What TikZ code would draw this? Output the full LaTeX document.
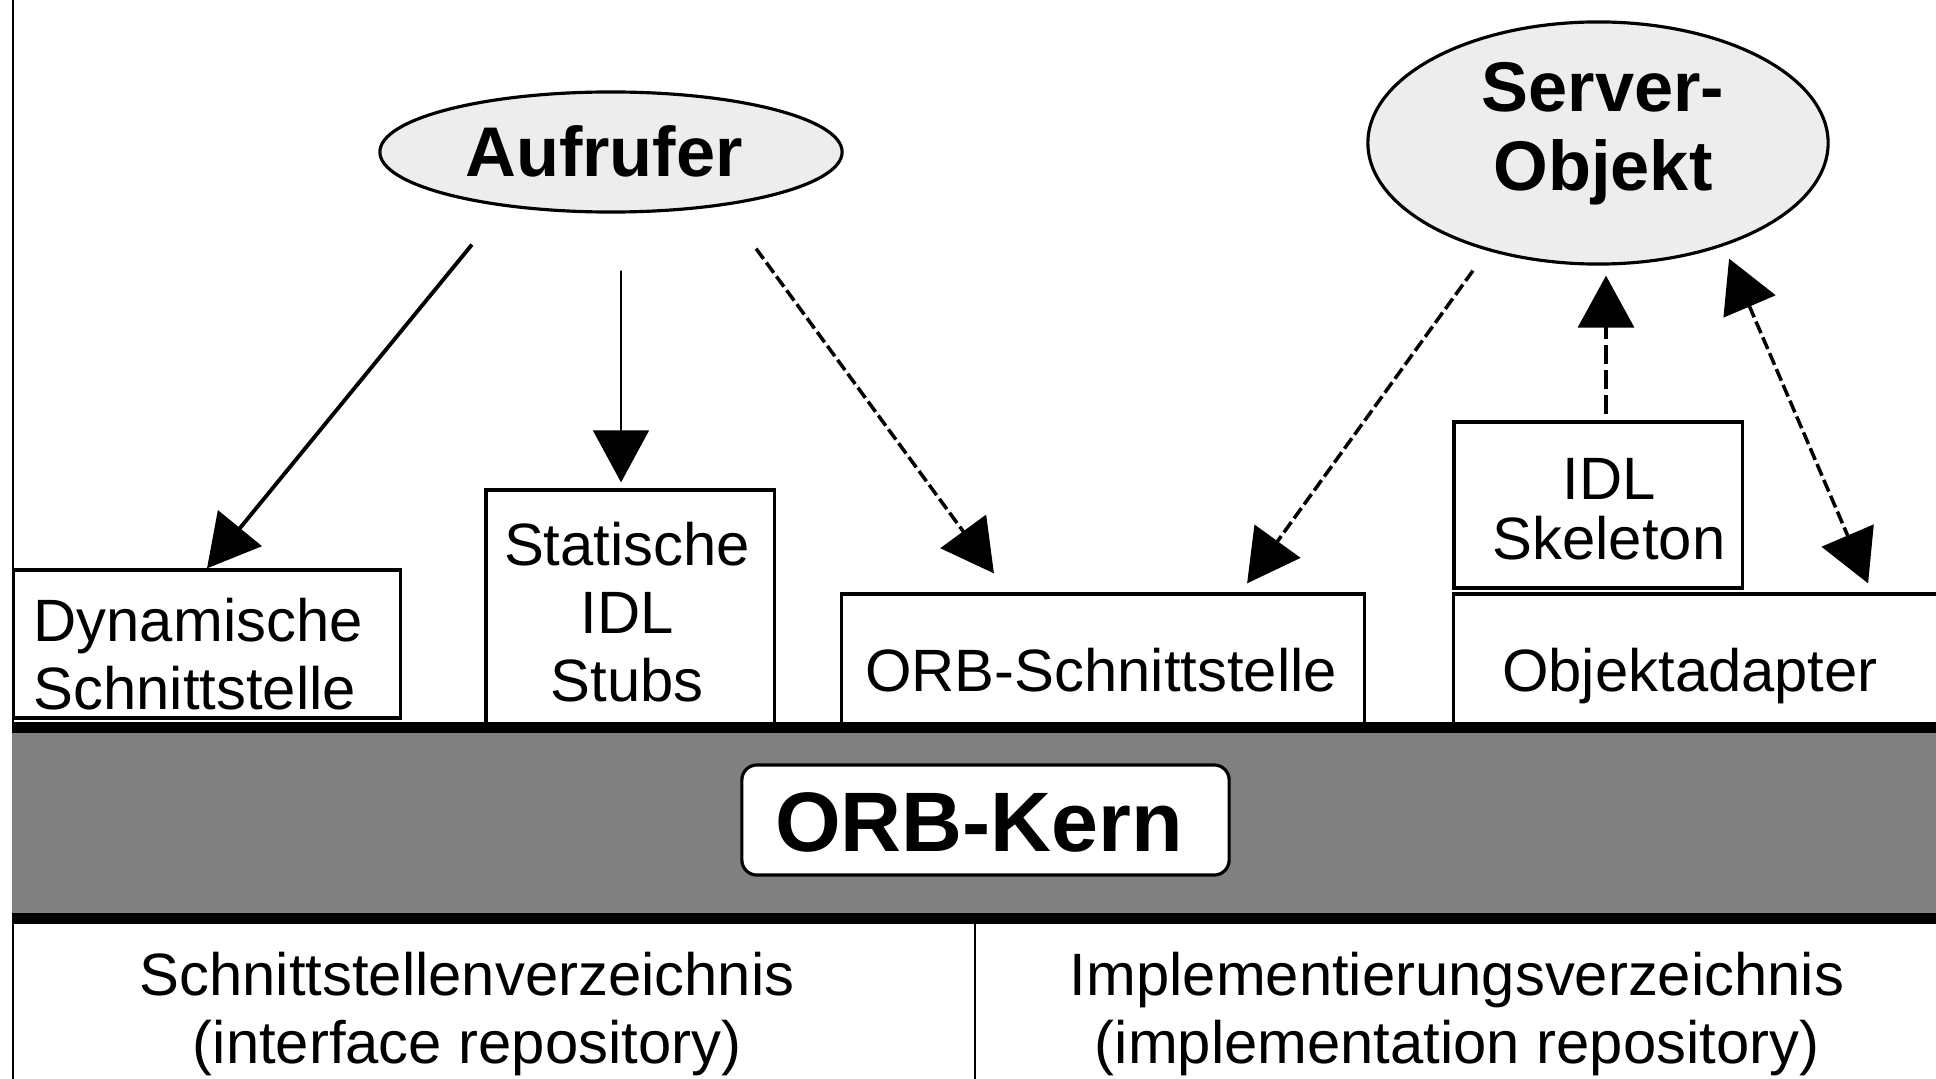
\documentclass[tikz,border=0pt]{standalone}
\usepackage{fontspec}
\setmainfont{Liberation Sans}
\usetikzlibrary{arrows.meta,shapes.geometric,calc}

\newcommand\regtext{\fontsize{17}{19.4}\selectfont}
\newcommand\boldtext{\fontsize{20}{22.4}\selectfont\bfseries}

\tikzset{
  panel/.style={draw=black, line width=0.9pt, fill=white, rectangle, inner sep=0pt},
  txt/.style={inner sep=0pt, align=center, font=\regtext},
  actor/.style={draw=black, line width=0.9pt, fill=black!7, ellipse, inner sep=0pt},
  head/.style={-{Triangle[length=0.52cm,width=0.56cm]}},
  twohead/.style={{Triangle[length=0.52cm,width=0.56cm]}-{Triangle[length=0.52cm,width=0.56cm]}},
  call/.style={line width=1.1pt, head},
  thincall/.style={line width=0.45pt, head},
  dashcall/.style={line width=1pt, dash pattern=on 3.6pt off 1.3pt},
  longdash/.style={line width=1pt, dash pattern=on 5.5pt off 1.6pt},
}

\begin{document}
\begin{tikzpicture}[x=0.01cm, y=-0.01cm]
\useasboundingbox (0,0) rectangle (1936,1079);

% left frame line
\draw[line width=0.6pt] (13,0) -- (13,1079);

% ORB core band
\node[fill=black!50, rectangle, inner sep=0pt, minimum width=19.37cm, minimum height=1.895cm] (core) at (981.5,823.25) {};

% components on top of the core
\node[panel, minimum width=3.86cm, minimum height=1.48cm] (dyn) at (207,644) {};
\node[txt, align=left, anchor=west] (dyntxt) at (33,654) {Dynamische\\Schnittstelle};

\node[panel, minimum width=2.88cm, minimum height=2.36cm] (stat) at (630,608) {};
\node[txt] (stattxt) at (627,612) {Statische\\IDL\\Stubs};

\node[panel, minimum width=5.22cm, minimum height=1.32cm] (orbs) at (1103,660) {};
\node[txt] (orbstxt) at (1101,670) {ORB-Schnittstelle};

\node[panel, minimum width=2.88cm, minimum height=1.66cm] (skel) at (1598,505) {};
\node[txt, font=\fontsize{17}{17.2}\selectfont] (skeltxt) at (1609,509) {IDL\\Skeleton};

\node[panel, minimum width=4.96cm, minimum height=1.32cm] (oa) at (1702,660) {};
\node[txt] (oatxt) at (1690,676) {Objektadapter};

% thick borders of the core band
\draw[line width=3pt] (core.north west) -- (core.north east);
\draw[line width=3pt] (core.south west) -- (core.south east);

\node[draw=black, line width=0.9pt, fill=white, rounded corners=0.15cm, rectangle, inner sep=0pt,
      minimum width=4.87cm, minimum height=1.10cm] (kern) at (985.5,820) {};
\node[inner sep=0pt, font=\fontsize{24}{26}\selectfont\bfseries] (kerntxt) at (979,822) {ORB-Kern};

% repositories below the core
\coordinate (divtop) at (975,918);
\coordinate (divbot) at (975,1079);
\draw[line width=0.6pt] (divtop) -- (divbot);
\node[txt] (ifr) at (467,1014) {Schnittstellenverzeichnis\\(interface repository)};
\node[txt] (impr) at (1457,1014) {Implementierungsverzeichnis\\(implementation repository)};

% client and server objects
\node[actor, minimum width=4.62cm, minimum height=1.20cm] (auf) at (611,152) {};
\node[inner sep=0pt, font=\boldtext] (auftxt) at (604,151) {Aufrufer};

\node[actor, minimum width=4.60cm, minimum height=2.42cm] (srv) at (1598,143) {};
\node[inner sep=0pt, align=center, font=\fontsize{20}{22.6}\selectfont\bfseries] (srvtxt) at (1603,134) {Server-\\Objekt};

% invocations
\draw[call] ([xshift=-1.39cm, yshift=-0.31cm]auf.south) -- (dyn.north);
\draw[thincall] ([xshift=0.10cm, yshift=-0.57cm]auf.south) -- ([xshift=-0.09cm, yshift=0.06cm]stat.north);
\draw[dashcall, head] ([xshift=1.45cm, yshift=-0.35cm]auf.south) -- ([xshift=-1.09cm, yshift=0.19cm]orbs.north);
\draw[dashcall, head] ([xshift=-1.25cm, yshift=-0.05cm]srv.south) -- ([xshift=1.44cm, yshift=0.09cm]orbs.north);
\draw[longdash, head] ([xshift=0.08cm, yshift=0.06cm]skel.north) -- ([xshift=0.08cm, yshift=-0.10cm]srv.south);
\draw[dashcall, twohead] ([xshift=1.31cm, yshift=0.07cm]srv.south) -- ([xshift=1.66cm, yshift=0.09cm]oa.north);
\end{tikzpicture}
\end{document}
